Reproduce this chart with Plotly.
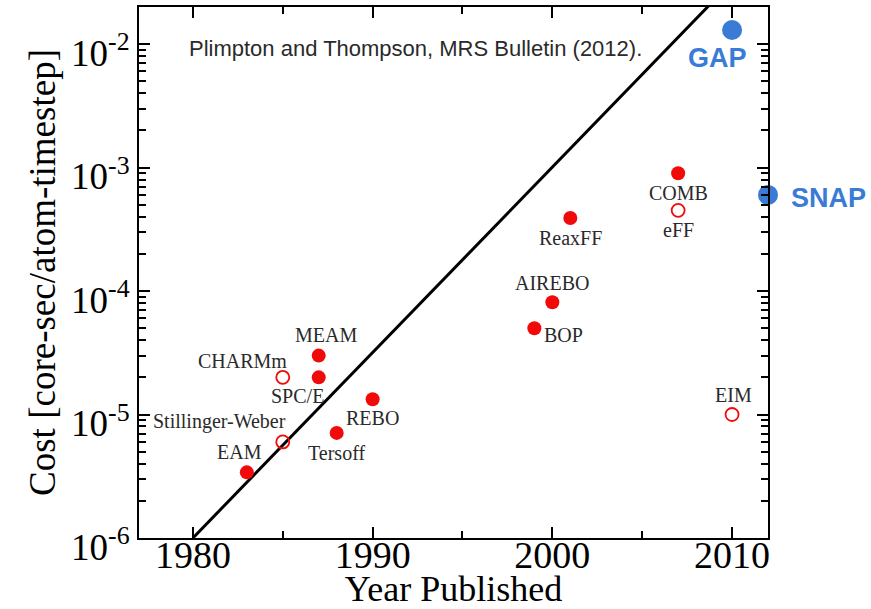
import math
import plotly.graph_objects as go

# Interatomic potentials: year published vs. cost per atom per timestep
potentials = ["EAM", "Stillinger-Weber", "CHARMm", "SPC/E", "MEAM", "Tersoff", "REBO",
              "BOP", "AIREBO", "ReaxFF", "COMB", "eFF", "EIM"]
years = [1983, 1985, 1985, 1987, 1987, 1988, 1990, 1999, 2000, 2001, 2007, 2007, 2010]
costs = [3.4e-6, 6.0e-6, 2.0e-5, 2.0e-5, 3.0e-5, 7.1e-6, 1.33e-5,
         5.0e-5, 8.1e-5, 3.9e-4, 9.0e-4, 4.5e-4, 1.0e-5]
open_marker = [False, True, True, False, False, False, False,
               False, False, False, False, True, True]

# Machine-learning potentials
ml_names = ["GAP", "SNAP"]
ml_years = [2010, 2012]
ml_costs = [1.3e-2, 6.0e-4]

# Trend line endpoints
trend_years = [1980, 2010]
trend_costs = [1.0e-6, 3.2e-2]

# Axis ticks
x_ticks = [1980, 1990, 2000, 2010]
x_minor = [1985, 1995, 2005]
y_ticks = [1e-6, 1e-5, 1e-4, 1e-3, 1e-2]
y_ticktext = ["10<sup>-6</sup>", "10<sup>-5</sup>", "10<sup>-4</sup>",
              "10<sup>-3</sup>", "10<sup>-2</sup>"]

RED = "#f00a0a"
BLUE = "#3a7bd5"
TEXT = "#2a2a2a"
SERIF = "Liberation Serif, Times New Roman, serif"
SANS = "Liberation Sans, Arial, sans-serif"

# label placement relative to each marker: (xshift, yshift, xanchor)
label_style = {
    "EAM": (-7, 20, "center"),
    "Stillinger-Weber": (-63, 20, "center"),
    "CHARMm": (-40, 16, "center"),
    "SPC/E": (-21, -19, "center"),
    "MEAM": (7, 21, "center"),
    "Tersoff": (0, -20, "center"),
    "REBO": (0, -19, "center"),
    "BOP": (8, -7, "left"),
    "AIREBO": (0, 19, "center"),
    "ReaxFF": (0, -20, "center"),
    "COMB": (0, -20, "center"),
    "eFF": (0, -20, "center"),
    "EIM": (1, 20, "center"),
}
ml_label_style = {
    "GAP": (-15, -28, "center"),
    "SNAP": (21, -3, "left"),
}

fig = go.Figure()

fig.add_trace(go.Scatter(
    x=trend_years, y=trend_costs, mode="lines",
    line=dict(color="black", width=3), hoverinfo="skip", showlegend=False,
))

filled_x = [y for y, o in zip(years, open_marker) if not o]
filled_y = [c for c, o in zip(costs, open_marker) if not o]
hollow_x = [y for y, o in zip(years, open_marker) if o]
hollow_y = [c for c, o in zip(costs, open_marker) if o]

fig.add_trace(go.Scatter(
    x=filled_x, y=filled_y, mode="markers",
    marker=dict(symbol="circle", size=14, color=RED, line=dict(width=0)),
    showlegend=False, cliponaxis=False,
))
fig.add_trace(go.Scatter(
    x=hollow_x, y=hollow_y, mode="markers",
    marker=dict(symbol="circle-open", size=13, color=RED, line=dict(width=1.8)),
    showlegend=False, cliponaxis=False,
))
fig.add_trace(go.Scatter(
    x=ml_years, y=ml_costs, mode="markers",
    marker=dict(symbol="circle", size=20, color=BLUE, line=dict(width=0)),
    showlegend=False, cliponaxis=False,
))

# annotations on a log axis take log10 positions
annotations = []
for name, yr, c in zip(potentials, years, costs):
    dx, dy, anchor = label_style[name]
    annotations.append(dict(
        x=yr, y=math.log10(c), xref="x", yref="y", yanchor="middle", xanchor=anchor,
        text=name, showarrow=False, xshift=dx, yshift=dy,
        font=dict(family=SERIF, size=20, color=TEXT),
    ))
for name, yr, c in zip(ml_names, ml_years, ml_costs):
    dx, dy, anchor = ml_label_style[name]
    annotations.append(dict(
        x=yr, y=math.log10(c), xref="x", yref="y", yanchor="middle", xanchor=anchor,
        text="<b>%s</b>" % name, showarrow=False, xshift=dx, yshift=dy,
        font=dict(family=SANS, size=27, color=BLUE),
    ))
annotations.append(dict(
    x=0.440, y=1 - (48 - 7) / 531.0, xref="paper", yref="paper", yanchor="middle",
    text="Plimpton and Thompson, MRS Bulletin (2012).",
    showarrow=False, font=dict(family=SANS, size=22, color=TEXT),
))

y_minor = [m * 10.0 ** e for e in range(-6, -1) for m in range(2, 10)]

fig.update_layout(
    width=871, height=609,
    margin=dict(l=139, r=103, t=7, b=71),
    paper_bgcolor="white", plot_bgcolor="white",
    annotations=annotations,
    xaxis=dict(
        range=[1977, 2012], tickvals=x_ticks, ticks="inside", ticklen=11, tickwidth=1.5,
        tickcolor="black", showline=True, linecolor="black", linewidth=2, mirror="ticks",
        showgrid=False, zeroline=False, automargin=False, ticklabelstandoff=-18,
        tickfont=dict(family=SERIF, size=38, color="black"),
        minor=dict(tickvals=x_minor, ticks="inside", ticklen=7, tickwidth=1.5, tickcolor="black"),
        title=dict(text="Year Published", font=dict(family=SERIF, size=36, color="black"), standoff=0),
    ),
    yaxis=dict(
        type="log", range=[-6, -1.70], tickvals=y_ticks, ticktext=y_ticktext,
        ticks="inside", ticklen=11, tickwidth=1.5, tickcolor="black",
        showline=True, linecolor="black", linewidth=2, mirror="ticks",
        showgrid=False, zeroline=False, automargin=False, ticklabelstandoff=0,
        ticklabelshift=9,
        tickfont=dict(family=SERIF, size=37, color="black"),
        minor=dict(tickvals=y_minor, ticks="inside", ticklen=7, tickwidth=1.5, tickcolor="black"),
        title=dict(text="Cost [core-sec/atom-timestep]", font=dict(family=SERIF, size=37, color="black"),
                   standoff=4),
    ),
)

fig.write_html("out.html")
